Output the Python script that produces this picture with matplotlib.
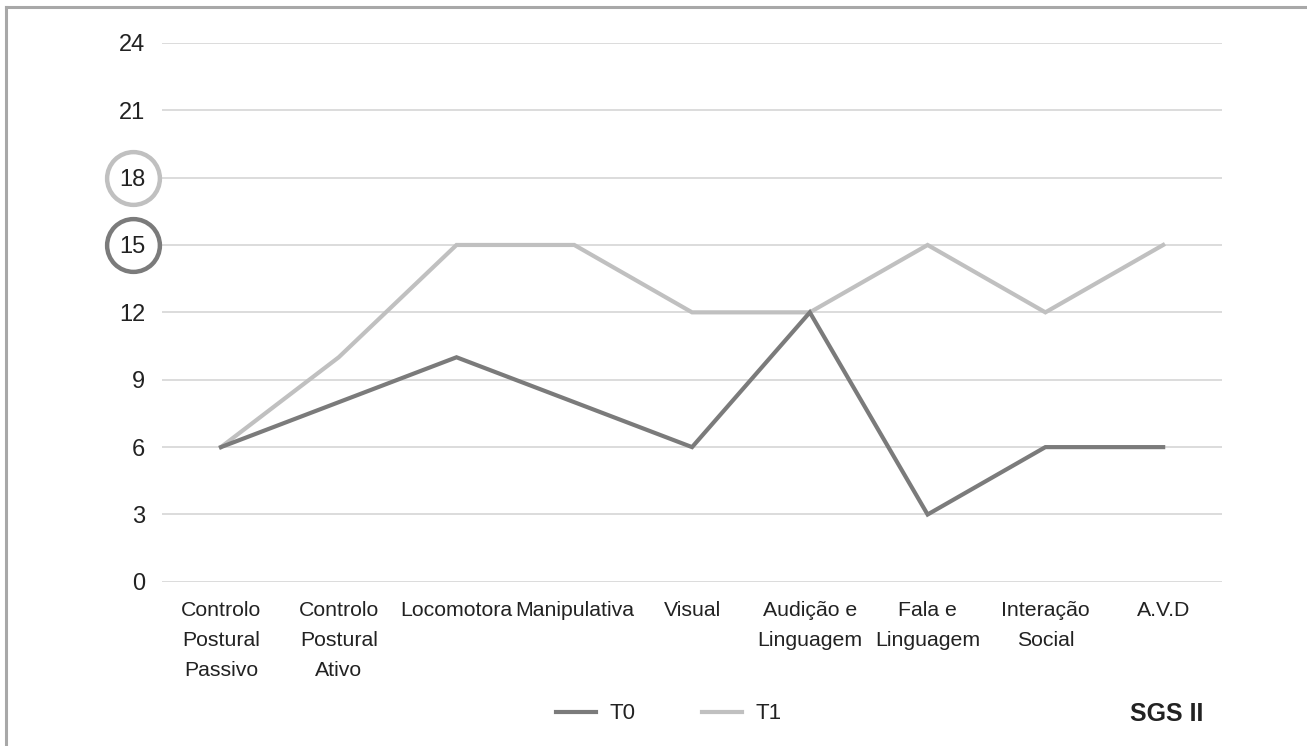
import matplotlib
matplotlib.use("Agg")
import matplotlib.pyplot as plt
from matplotlib.lines import Line2D

categories = ["Controlo\nPostural\nPassivo", "Controlo\nPostural\nAtivo", "Locomotora",
              "Manipulativa", "Visual", "Audição e\nLinguagem", "Fala e\nLinguagem",
              "Interação\nSocial", "A.V.D"]
t0 = [6, 8, 10, 8, 6, 12, 3, 6, 6]
t1 = [6, 10, 15, 15, 12, 12, 15, 12, 15]
y_ticks = [0, 3, 6, 9, 12, 15, 18, 21, 24]
circled = [18, 15]

dark = "#7b7b7b"
light = "#c0c0c0"

plt.rcParams["font.family"] = ["Liberation Sans Narrow", "Liberation Sans", "DejaVu Sans"]

fig = plt.figure(figsize=(13.07, 7.46), dpi=100)
ax = fig.add_axes([0.124, 0.22, 0.811, 0.7226])

x = list(range(len(categories)))
ax.plot(x, t0, color=dark, lw=3, label="T0", solid_joinstyle="miter", zorder=3)
ax.plot(x, t1, color=light, lw=3, label="T1", solid_joinstyle="miter", zorder=2)

ax.set_xlim(-0.5, len(categories) - 0.5)
ax.set_ylim(0, 24)
ax.set_yticks(y_ticks)
ax.set_xticks(x)
ax.set_xticklabels(categories, fontsize=15.3, color="#222222", linespacing=1.72)
ax.tick_params(axis="y", labelsize=17, labelcolor="#222222", length=0, pad=12)
ax.tick_params(axis="x", length=0, pad=14)
ax.grid(axis="y", color="#d9d9d9", lw=1.3)
ax.set_axisbelow(True)
for s in ax.spines.values():
    s.set_visible(False)

# rings around two of the y tick labels
trans = ax.get_yaxis_transform()
for val, c in zip(circled, [light, dark]):
    ax.plot([-0.027], [val], transform=trans, marker="o", ms=38, mfc="none",
            mec=c, mew=3.2, clip_on=False)

leg = fig.legend(handles=[Line2D([], [], color=dark, lw=3, label="T0"),
                          Line2D([], [], color=light, lw=3, label="T1")],
                 loc="center", bbox_to_anchor=(0.512, 0.043), ncol=2, frameon=False,
                 fontsize=16, handlelength=1.8, columnspacing=3.0, handletextpad=0.6)
for t in leg.get_texts():
    t.set_color("#222222")

fig.text(0.921, 0.043, "SGS II", fontsize=18, fontweight="bold", ha="right",
         va="center", color="#222222")

# frame lines on top and left of the figure
fig.add_artist(Line2D([6 / 1307, 6 / 1307], [0, 1 - 7 / 746], color="#a8a8a8", lw=2.2,
                      transform=fig.transFigure))
fig.add_artist(Line2D([6 / 1307, 1], [1 - 7 / 746, 1 - 7 / 746], color="#a8a8a8", lw=2.2,
                      transform=fig.transFigure))

fig.savefig("out.png", dpi=100, facecolor="white")
